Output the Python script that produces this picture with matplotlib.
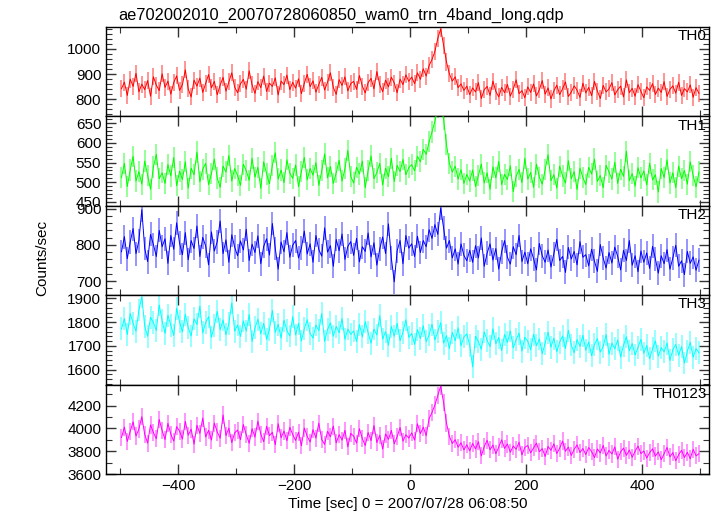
"""Stacked WAM light curves (4 bands + sum) around the 2007-07-28 burst."""
import matplotlib
matplotlib.use("Agg")
import matplotlib.pyplot as plt
import numpy as np
from matplotlib.ticker import MultipleLocator

plt.rcParams.update({
    "font.family": ["Liberation Sans", "DejaVu Sans"],
    "font.size": 11,
    "axes.linewidth": 1.0,
})

TITLE = "ae702002010_20070728060850_wam0_trn_4band_long.qdp"
BANDS = ["TH0", "TH1", "TH2", "TH3", "TH0123"]
COLORS = ["#ff0000", "#00ff00", "#0000ff", "#00ffff", "#ff00ff"]

# bin centres (sec from 06:08:50), 5 s bins
T_START, T_BIN, N_BIN = -497.5, 5.0, 200

# counts/sec, 200 bins each
TH0 = [
    842, 868, 815, 880, 851, 903, 829, 860, 838, 874, 812, 889, 856, 834, 901, 847, 872, 820, 866, 893,
    835, 858, 917, 841, 809, 876, 852, 884, 827, 863, 898, 845, 871, 818, 856, 887, 832, 869, 905, 848,
    826, 861, 879, 840, 913, 857, 823, 870, 846, 892, 831, 864, 851, 885, 817, 872, 858, 896, 838, 867,
    844, 881, 822, 863, 899, 850, 873, 828, 859, 887, 836, 868, 905, 847, 819, 878, 855, 889, 833, 862,
    871, 839, 894, 852, 825, 866, 883, 841, 910, 857, 830, 876, 849, 888, 864, 826, 880, 858, 897, 871,
    888, 862, 905, 879, 921, 892, 934, 958, 990, 1042, 1080, 1015, 948, 901, 872, 889, 846, 861, 835, 852,
    818, 845, 829, 866, 803, 838, 851, 815, 872, 831, 809, 847, 826, 859, 812, 840, 877, 822, 834, 806,
    849, 827, 861, 813, 838, 874, 820, 845, 801, 833, 856, 818, 842, 869, 811, 828, 853, 836, 807, 864,
    825, 847, 814, 871, 832, 803, 855, 829, 841, 866, 817, 838, 852, 809, 877, 826, 843, 812, 858, 831,
    806, 849, 835, 862, 819, 844, 827, 870, 811, 839, 853, 824, 868, 815, 842, 829, 857, 808, 846, 823,
]
TH1 = [
    512, 548, 489, 531, 566, 503, 527, 495, 554, 518, 482, 539, 571, 509, 524, 497, 545, 516, 563, 491,
    528, 507, 552, 485, 536, 519, 577, 501, 533, 548, 494, 522, 559, 511, 487, 541, 526, 568, 503, 535,
    517, 492, 546, 529, 505, 561, 513, 538, 484, 552, 521, 496, 543, 575, 508, 531, 499, 557, 523, 510,
    544, 489, 527, 563, 506, 535, 518, 550, 492, 529, 572, 511, 540, 497, 524, 556, 503, 534, 581, 515,
    498, 538, 521, 554, 486, 530, 567, 509, 525, 548, 493, 536, 514, 561, 502, 543, 527, 558, 519, 537,
    545, 529, 566, 552, 584, 571, 603, 628, 655, 690, 702, 660, 596, 548, 526, 541, 508, 532, 497, 520,
    503, 531, 489, 517, 546, 498, 524, 482, 539, 511, 553, 494, 520, 507, 542, 476, 515, 533, 499, 561,
    508, 525, 487, 546, 513, 495, 532, 570, 504, 519, 485, 541, 516, 498, 555, 509, 527, 481, 536, 512,
    494, 538, 521, 559, 502, 517, 486, 543, 526, 508, 551, 497, 533, 515, 579, 504, 522, 490, 537, 511,
    529, 493, 548, 506, 519, 475, 535, 512, 557, 498, 524, 486, 541, 509, 530, 495, 552, 517, 488, 526,
]
TH2 = [
    781, 823, 762, 808, 845, 776, 812, 897, 790, 754, 829, 801, 768, 840, 795, 817, 749, 826, 788, 861,
    805, 773, 834, 759, 812, 790, 852, 768, 821, 797, 745, 836, 783, 809, 866, 776, 814, 752, 828, 794,
    770, 811, 786, 843, 757, 802, 779, 825, 748, 796, 817, 772, 859, 790, 733, 808, 781, 834, 766, 799,
    812, 764, 791, 838, 775, 803, 752, 826, 787, 769, 847, 780, 798, 741, 815, 784, 830, 760, 796, 809,
    771, 818, 753, 795, 782, 833, 767, 806, 744, 789, 822, 776, 858, 763, 698, 784, 812, 748, 826, 791,
    803, 768, 824, 779, 812, 795, 842, 818, 856, 829, 902, 846, 791, 812, 764, 789, 747, 803, 771, 756,
    785, 752, 798, 764, 819, 741, 777, 803, 758, 790, 733, 781, 812, 766, 747, 795, 773, 826, 754, 780,
    748, 789, 762, 731, 804, 770, 752, 786, 739, 776, 815, 757, 768, 724, 793, 761, 782, 745, 809, 766,
    773, 742, 788, 755, 727, 801, 764, 736, 779, 750, 794, 768, 731, 785, 757, 812, 744, 770, 726, 783,
    752, 778, 735, 796, 761, 722, 770, 748, 787, 733, 764, 799, 741, 756, 718, 782, 749, 767, 730, 758,
]
TH3 = [
    1772, 1815, 1748, 1836, 1795, 1762, 1851, 1907, 1783, 1741, 1820, 1798, 1765, 1872, 1806, 1753, 1829, 1787, 1744, 1858,
    1801, 1759, 1833, 1776, 1742, 1814, 1790, 1867, 1755, 1798, 1823, 1736, 1785, 1846, 1768, 1809, 1747, 1794, 1881, 1762,
    1788, 1740, 1805, 1763, 1832, 1719, 1776, 1812, 1751, 1795, 1728, 1770, 1849, 1757, 1791, 1733, 1808, 1765, 1742, 1823,
    1746, 1795, 1721, 1772, 1810, 1752, 1733, 1788, 1764, 1836, 1719, 1769, 1797, 1741, 1782, 1756, 1815, 1728, 1771, 1749,
    1763, 1719, 1790, 1738, 1802, 1755, 1712, 1771, 1746, 1827, 1729, 1760, 1703, 1782, 1741, 1795, 1722, 1758, 1810, 1736,
    1752, 1707, 1769, 1731, 1785, 1718, 1746, 1791, 1725, 1760, 1798, 1712, 1743, 1689, 1757, 1722, 1776, 1701, 1738, 1751,
    1703, 1612, 1741, 1718, 1686, 1759, 1724, 1697, 1772, 1709, 1735, 1681, 1748, 1715, 1763, 1692, 1726, 1754, 1678, 1737,
    1720, 1684, 1749, 1701, 1729, 1667, 1712, 1758, 1695, 1733, 1676, 1716, 1742, 1689, 1766, 1704, 1671, 1727, 1698, 1745,
    1682, 1717, 1659, 1706, 1731, 1674, 1698, 1748, 1665, 1712, 1688, 1725, 1653, 1703, 1739, 1679, 1710, 1662, 1694, 1728,
    1669, 1702, 1646, 1688, 1721, 1657, 1693, 1675, 1712, 1639, 1684, 1706, 1661, 1697, 1628, 1678, 1715, 1652, 1689, 1671,
]
TH0123 = [
    3921, 4012, 3887, 3975, 4058, 3934, 3996, 4103, 3948, 3872, 4031, 3965, 3910, 4079, 3982, 3903, 4045, 3951, 3889, 4016,
    3977, 3908, 4062, 3941, 3995, 3863, 4028, 3957, 4091, 3926, 3984, 3899, 4047, 3969, 3915, 4118, 3938, 4003, 3876, 3962,
    3986, 3902, 4035, 3944, 3871, 3998, 3925, 4064, 3951, 3884, 4019, 3937, 3966, 3858, 4042, 3919, 3978, 3893, 4011, 3947,
    3895, 3968, 3849, 4004, 3932, 3881, 3990, 3916, 4047, 3903, 3861, 3975, 3928, 4021, 3874, 3946, 3898, 3984, 3839, 3957,
    3933, 3872, 3998, 3911, 3851, 3965, 3894, 4026, 3877, 3940, 3820, 3952, 3905, 3983, 3866, 3929, 4008, 3889, 3945, 3916,
    3962, 3898, 4041, 3955, 4012, 3937, 4086, 4140, 4205, 4290, 4372, 4225, 4048, 3931, 3869, 3902, 3836, 3875, 3812, 3858,
    3804, 3869, 3821, 3885, 3760, 3842, 3897, 3813, 3856, 3779, 3838, 3901, 3826, 3864, 3792, 3847, 3818, 3880, 3769, 3835,
    3851, 3787, 3830, 3872, 3796, 3824, 3755, 3843, 3809, 3866, 3781, 3828, 3890, 3801, 3837, 3764, 3818, 3857, 3790, 3825,
    3772, 3833, 3798, 3745, 3821, 3786, 3852, 3759, 3808, 3777, 3839, 3731, 3796, 3828, 3765, 3812, 3748, 3801, 3846, 3780,
    3803, 3741, 3788, 3822, 3759, 3795, 3726, 3780, 3834, 3752, 3789, 3718, 3771, 3809, 3746, 3792, 3735, 3818, 3761, 3779,
]
SERIES = [TH0, TH1, TH2, TH3, TH0123]
ERRS = [34, 27, 33, 48, 75]          # typical 1-sigma error bar per band

YLIMS = [(732, 1088), (440, 668), (661, 908), (1537, 1913), (3600, 4383)]
YMAJ = [100, 50, 100, 100, 200]
YMIN = [20, 10, 20, 20, 100]
XLIM = (-524, 515)

t = T_START + T_BIN * np.arange(N_BIN)

fig, axes = plt.subplots(5, 1, sharex=True, figsize=(7.17, 5.16), dpi=100)
fig.subplots_adjust(left=0.148, right=0.989, top=0.948, bottom=0.081, hspace=0)

for ax, name, col, y, err, yl, ma, mi in zip(axes, BANDS, COLORS, SERIES, ERRS,
                                             YLIMS, YMAJ, YMIN):
    # light error bars behind, data line on top
    ax.errorbar(t, y, yerr=err, fmt="none", ecolor=col, elinewidth=1.3,
                alpha=0.45, capsize=0, zorder=2)
    ax.plot(t, y, "-", color=col, lw=0.7, zorder=3)
    ax.set_ylim(*yl)
    ax.set_xlim(*XLIM)
    ax.yaxis.set_major_locator(MultipleLocator(ma))
    ax.yaxis.set_minor_locator(MultipleLocator(mi))
    ax.xaxis.set_major_locator(MultipleLocator(200))
    ax.xaxis.set_minor_locator(MultipleLocator(100))
    ax.tick_params(which="both", direction="in", top=True, right=True,
                   labelsize=11, color="#333333")
    ax.tick_params(which="major", length=7, width=1)
    ax.tick_params(which="minor", length=4, width=0.8)
    ax.text(0.996, 0.975, name, transform=ax.transAxes, ha="right", va="top",
            fontsize=11)

fig.text(118 / 717, 1 - 20 / 516, TITLE, fontsize=11.8, ha="left", va="baseline")
fig.text(42 / 717, 0.5, "Counts/sec", rotation=90, ha="center", va="center",
         fontsize=11)
axes[-1].set_xlabel("Time [sec] 0 = 2007/07/28 06:08:50", fontsize=11,
                    labelpad=3)

fig.savefig("out.png", dpi=100)
